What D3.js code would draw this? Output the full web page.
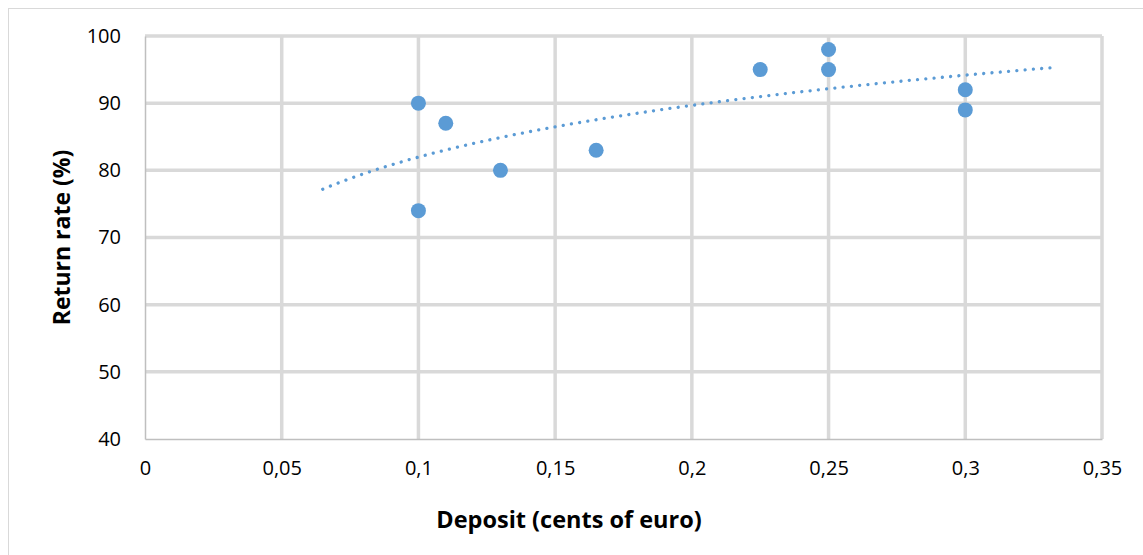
<!DOCTYPE html>
<html>
<head>
<meta charset="utf-8">
<script src="https://d3js.org/d3.v7.min.js"></script>
<style>
  body { margin: 0; background: #fff; }
  text { font-family: "Open Sans", "Noto Sans", sans-serif; fill: #000; }
</style>
</head>
<body>
<div id="scatter"></div>
<script>
// data
var deposits = [0.1, 0.1, 0.11, 0.13, 0.165, 0.225, 0.25, 0.25, 0.3, 0.3];
var returnRates = [90, 74, 87, 80, 83, 95, 98, 95, 92, 89];
var xTicks = [0, 0.05, 0.1, 0.15, 0.2, 0.25, 0.3, 0.35];
var yTicks = [40, 50, 60, 70, 80, 90, 100];
var trendRange = [0.065, 0.333];

var svgWidth = 1143;
var svgHeight = 555;

var margin = { top: 36, right: 41, bottom: 116, left: 145 };
var width = svgWidth - margin.left - margin.right;
var height = svgHeight - margin.top - margin.bottom;

var svg = d3.select("#scatter")
    .append("svg")
    .attr("width", svgWidth)
    .attr("height", svgHeight);

// outer chart border (runs off right and bottom edges)
svg.append("rect")
    .attr("x", 8.5)
    .attr("y", 8.5)
    .attr("width", svgWidth + 10)
    .attr("height", svgHeight + 10)
    .attr("fill", "none")
    .attr("stroke", "#d9d9d9")
    .attr("stroke-width", 1);

var chartGroup = svg.append("g")
    .attr("transform", `translate(${margin.left}, ${margin.top})`);

var xScale = d3.scaleLinear().domain([0, 0.35]).range([0, width]);
var yScale = d3.scaleLinear().domain([40, 100]).range([height, 0]);

// gridlines
chartGroup.append("g")
    .selectAll("line")
    .data(yTicks.filter(d => d !== 40))
    .enter()
    .append("line")
    .attr("x1", 0)
    .attr("x2", width)
    .attr("y1", d => yScale(d))
    .attr("y2", d => yScale(d))
    .attr("stroke", "#d9d9d9")
    .attr("stroke-width", 3.5);

chartGroup.append("g")
    .selectAll("line")
    .data(xTicks.filter(d => d !== 0))
    .enter()
    .append("line")
    .attr("x1", d => xScale(d))
    .attr("x2", d => xScale(d))
    .attr("y1", 0)
    .attr("y2", height)
    .attr("stroke", "#d9d9d9")
    .attr("stroke-width", 3.5);

// axes
var bottomAxis = d3.axisBottom(xScale)
    .tickValues(xTicks)
    .tickSize(0)
    .tickPadding(22)
    .tickFormat(d => String(d).replace(".", ","));

var leftAxis = d3.axisLeft(yScale)
    .tickValues(yTicks)
    .tickSize(0)
    .tickPadding(24)
    .tickFormat(d3.format("d"));

var xAxis = chartGroup.append("g")
    .attr("transform", `translate(0, ${height})`)
    .call(bottomAxis);

var yAxis = chartGroup.append("g")
    .call(leftAxis);

[xAxis, yAxis].forEach(function(ax) {
    ax.select(".domain")
        .attr("stroke", "#bfbfbf")
        .attr("stroke-width", 1.5);
    ax.selectAll("text")
        .attr("font-size", "20px")
        .attr("fill", "#000")
        .style("font-family", "'Open Sans', sans-serif");
});

// logarithmic trendline, fitted to the points (least squares on ln x)
var lnX = deposits.map(d => Math.log(d));
var meanLn = d3.mean(lnX);
var meanY = d3.mean(returnRates);
var sxy = d3.sum(lnX, (d, i) => (d - meanLn) * (returnRates[i] - meanY));
var sxx = d3.sum(lnX, d => (d - meanLn) * (d - meanLn));
var slope = sxy / sxx;
var intercept = meanY - slope * meanLn;

var trendXs = d3.range(trendRange[0], trendRange[1], 0.002).concat([trendRange[1]]);

var trendLine = d3.line()
    .x(d => xScale(d))
    .y(d => yScale(intercept + slope * Math.log(d)));

chartGroup.append("path")
    .datum(trendXs)
    .attr("d", trendLine)
    .attr("fill", "none")
    .attr("stroke", "#5b9bd5")
    .attr("stroke-width", 3.3)
    .attr("stroke-linecap", "round")
    .attr("stroke-dasharray", "0.01 8.3");

// points
chartGroup.selectAll("circle")
    .data(deposits)
    .enter()
    .append("circle")
    .attr("cx", d => xScale(d))
    .attr("cy", (d, i) => yScale(returnRates[i]))
    .attr("r", 7.5)
    .attr("fill", "#5b9bd5");

// axis titles
svg.append("text")
    .attr("x", 569)
    .attr("y", 528)
    .attr("text-anchor", "middle")
    .attr("font-size", "23.5px")
    .attr("font-weight", "bold")
    .text("Deposit (cents of euro)");

svg.append("text")
    .attr("transform", `translate(70, ${margin.top + height / 2}) rotate(-90)`)
    .attr("text-anchor", "middle")
    .attr("font-size", "23px")
    .attr("font-weight", "bold")
    .text("Return rate (%)");
</script>
</body>
</html>
